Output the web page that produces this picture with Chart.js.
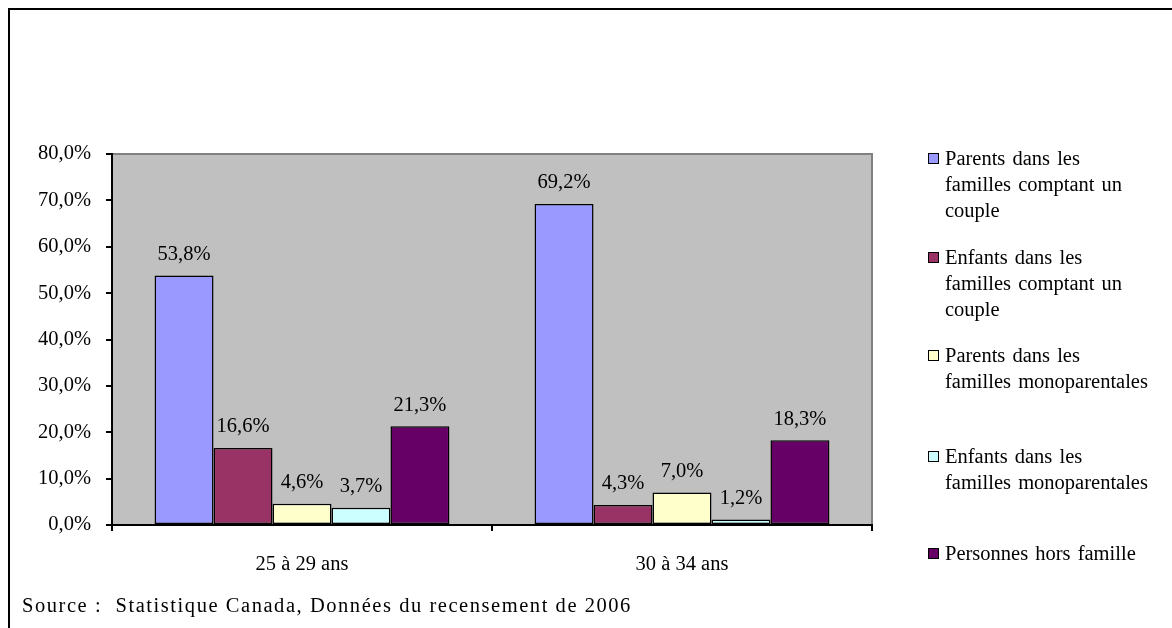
<!DOCTYPE html>
<html>
<head>
<meta charset="utf-8">
<script src="https://cdn.jsdelivr.net/npm/chart.js@4.4.1/dist/chart.umd.min.js"></script>
<style>
  html, body { margin: 0; padding: 0; background: #fff; }
  #wrap { position: relative; width: 1172px; height: 628px; overflow: hidden; }
  #frame { position: absolute; left: 8px; top: 8px; width: 1300px; height: 700px; border-left: 2px solid #000; border-top: 2px solid #000; box-sizing: border-box; }
  canvas { position: absolute; left: 0; top: 0; }
  .leg { position: absolute; left: 928px; font-family: 'Liberation Serif', 'Times New Roman', serif; font-size: 20.5px; color: #000; line-height: 26px; word-spacing: 2px; }
  .leg .sw { position: absolute; left: 0; width: 9px; height: 9px; border: 1.5px solid #000; }
  .leg .tx { position: absolute; left: 17px; white-space: nowrap; }
  #source { position: absolute; left: 22px; top: 594px; font-family: 'Liberation Serif', 'Times New Roman', serif; font-size: 20.5px; color: #000; white-space: pre; letter-spacing: 1.55px; }
</style>
</head>
<body>
<div id="wrap">
  <div id="frame"></div>
  <canvas id="c" width="1172" height="628"></canvas>
  <div id="legend"></div>
  <div id="source">Source :  Statistique Canada, Données du recensement de 2006</div>
</div>
<script>
const categories = ["25 à 29 ans", "30 à 34 ans"];
const seriesNames = [
  ["Parents dans les", "familles comptant un", "couple"],
  ["Enfants dans les", "familles comptant un", "couple"],
  ["Parents dans les", "familles monoparentales"],
  ["Enfants dans les", "familles monoparentales"],
  ["Personnes hors famille"]
];
const parentsCouple = [53.8, 69.2];
const enfantsCouple = [16.6, 4.3];
const parentsMono = [4.6, 7.0];
const enfantsMono = [3.7, 1.2];
const horsFamille = [21.3, 18.3];
const yTicks = [0, 10, 20, 30, 40, 50, 60, 70, 80];
const colors = ["#9999FF", "#993366", "#FFFFCC", "#CCFFFF", "#660066"];

const seriesValues = [parentsCouple, enfantsCouple, parentsMono, enfantsMono, horsFamille];
const FONT = "'Liberation Serif', 'Times New Roman', serif";
const FS = 20.5;
const fmt = v => v.toFixed(1).replace('.', ',') + '%';

const bgPlugin = {
  id: 'bg',
  beforeDraw(chart) {
    const a = chart.chartArea, ctx = chart.ctx;
    ctx.save();
    ctx.fillStyle = '#C0C0C0';
    ctx.fillRect(a.left, a.top, a.right - a.left, a.bottom - a.top);
    ctx.strokeStyle = '#808080';
    ctx.lineWidth = 2;
    ctx.beginPath();
    ctx.moveTo(a.left, a.top);
    ctx.lineTo(a.right, a.top);
    ctx.lineTo(a.right, a.bottom);
    ctx.stroke();
    ctx.restore();
  }
};
const labelPlugin = {
  id: 'vals',
  afterDatasetsDraw(chart) {
    const ctx = chart.ctx;
    ctx.save();
    ctx.font = FS + 'px ' + FONT;
    ctx.fillStyle = '#000';
    ctx.textAlign = 'center';
    ctx.textBaseline = 'middle';
    chart.data.datasets.forEach((ds, i) => {
      chart.getDatasetMeta(i).data.forEach((el, j) => {
        ctx.fillText(fmt(ds.data[j]), el.x, el.y - 21);
      });
    });
    ctx.restore();
  }
};

new Chart(document.getElementById('c'), {
  type: 'bar',
  data: {
    labels: categories,
    datasets: seriesValues.map((vals, i) => ({
      label: seriesNames[i].join(' '),
      data: vals,
      backgroundColor: colors[i],
      borderColor: '#000',
      borderWidth: 1.5,
      borderSkipped: false,
      categoryPercentage: 0.776,
      barPercentage: 1.0
    }))
  },
  options: {
    responsive: false,
    animation: false,
    events: [],
    layout: { padding: { left: 0, right: 300, top: 154, bottom: 53 } },
    plugins: { legend: { display: false }, tooltip: { enabled: false } },
    scales: {
      x: {
        grid: { display: true, drawOnChartArea: false, drawTicks: true, tickLength: 6, color: '#000', lineWidth: 2, offset: true },
        border: { display: true, color: '#000', width: 2 },
        ticks: { color: '#000', font: { family: FONT, size: FS }, padding: 21, maxRotation: 0 },
        afterFit(s) { s.height = 50; }
      },
      y: {
        min: 0, max: 80,
        afterBuildTicks(s) { s.ticks = yTicks.map(v => ({ value: v })); },
        grid: { display: true, drawOnChartArea: false, drawTicks: true, tickLength: 6, color: '#000', lineWidth: 2 },
        border: { display: true, color: '#000', width: 2 },
        ticks: { color: '#000', font: { family: FONT, size: FS }, padding: 15, callback: v => fmt(v) },
        afterFit(s) { s.width = 112; }
      }
    }
  },
  plugins: [bgPlugin, labelPlugin]
});

// HTML legend built from series names and colors
const legendTops = [153, 252, 350, 451, 548];
const lg = document.getElementById('legend');
seriesNames.forEach((lines, i) => {
  const d = document.createElement('div');
  d.className = 'leg';
  d.style.top = legendTops[i] + 'px';
  const sw = document.createElement('div');
  sw.className = 'sw';
  sw.style.background = colors[i];
  sw.style.top = '0px';
  d.appendChild(sw);
  const tx = document.createElement('div');
  tx.className = 'tx';
  tx.style.top = '-8px';
  tx.innerHTML = lines.join('<br>');
  d.appendChild(tx);
  lg.appendChild(d);
});
</script>
</body>
</html>
